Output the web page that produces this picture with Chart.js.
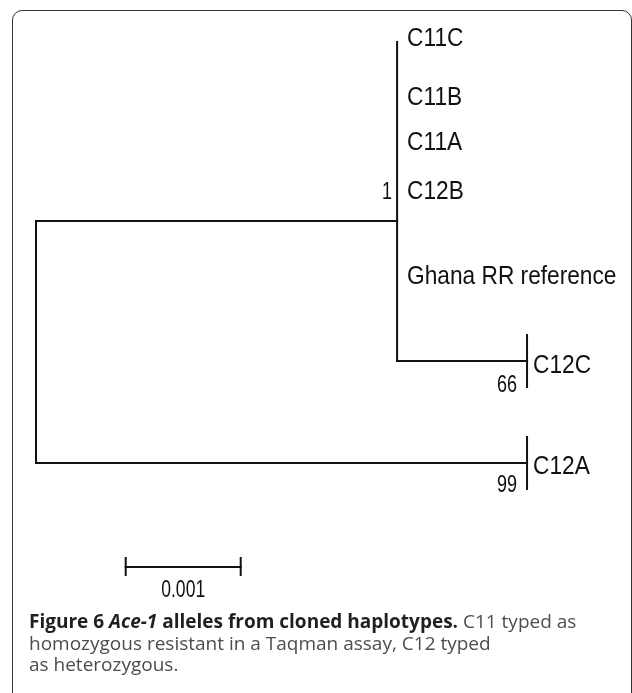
<!DOCTYPE html>
<html><head><meta charset="utf-8">
<script src="https://cdn.jsdelivr.net/npm/chart.js@4"></script>
<style>
html,body{margin:0;padding:0;background:#fff;width:632px;height:693px;overflow:hidden;}
#frame{position:absolute;left:12px;top:10px;width:620px;height:720px;border:1.6px solid #333;border-radius:10px;box-sizing:border-box;}
#wrap{position:absolute;left:0;top:0;width:632px;height:693px;}
#cap{position:absolute;left:29px;top:611px;font-family:"Open Sans";font-size:19px;line-height:21.5px;color:#4d4d4d;white-space:nowrap;}
#cap b{color:#231f20;font-weight:700}
</style></head><body>
<div id="frame"></div>
<div id="wrap"><canvas id="c" width="632" height="693"></canvas></div>
<div id="cap"><b>Figure 6 <i>Ace-1</i> alleles from cloned haplotypes.</b> C11 typed as<br>homozygous resistant in a Taqman assay, C12 typed<br>as heterozygous.</div>
<script>
// ---- data (branch depths in substitutions/site, vertical = row position) ----
const taxa = ['C11C', 'C11B', 'C11A', 'C12B', 'Ghana RR reference', 'C12C', 'C12A'];
const taxonDepth = [0.00314, 0.00314, 0.00314, 0.00314, 0.00314, 0.00427, 0.00427];
const taxonRow = [39, 98, 143, 192, 277, 366, 467];

const nodeNames = ['root', 'ingroup', 'C12C', 'C12A'];
const nodeDepth = [0, 0.00314, 0.00427, 0.00427];
const nodeRow = [221, 221, 361, 463];
const nodeParent = [-1, 0, 1, 0];
const ingroupSpan = [42, 361];      // vertical extent of the ingroup polytomy
const rootSpan = [221, 463];

const bootstrapLabels = ['1', '66', '99'];
const bootstrapDepth = [0.00314, 0.00427, 0.00427];
const bootstrapRow = [192, 385, 485];

const scaleBarStart = 0.00078;
const scaleBarLength = 0.001;
const scaleBarLabel = '0.001';
const scaleBarRow = 567;

// ---- build segments ----
const segs = [];
for (let i = 0; i < nodeNames.length; i++) {
  const p = nodeParent[i];
  if (p >= 0) segs.push([[nodeDepth[p], nodeRow[i]], [nodeDepth[i], nodeRow[i]]]);
}
segs.push([[nodeDepth[0], rootSpan[0]], [nodeDepth[0], rootSpan[1]]]);
segs.push([[nodeDepth[1], ingroupSpan[0]], [nodeDepth[1], ingroupSpan[1]]]);
const tickHalf = 26;
[2, 3].forEach(i => segs.push([[nodeDepth[i], nodeRow[i] - tickHalf], [nodeDepth[i], nodeRow[i] + tickHalf]]));
// scale bar
const sbEnd = scaleBarStart + scaleBarLength;
segs.push([[scaleBarStart, scaleBarRow], [sbEnd, scaleBarRow]]);
segs.push([[scaleBarStart, scaleBarRow - 9], [scaleBarStart, scaleBarRow + 8]]);
segs.push([[sbEnd, scaleBarRow - 9], [sbEnd, scaleBarRow + 8]]);

const datasets = segs.map(s => ({
  data: s.map(p => ({x: p[0], y: p[1]})),
  showLine: true, borderColor: '#111', borderWidth: 2,
  pointRadius: 0, tension: 0, borderCapStyle: 'square'
}));

function stretchText(ctx, text, x, y, size, sy, align) {
  ctx.save();
  ctx.translate(x, y);
  ctx.scale(1, sy);
  ctx.font = size + 'px "Liberation Sans", Arial, sans-serif';
  ctx.textAlign = align;
  ctx.textBaseline = 'middle';
  ctx.fillStyle = '#111';
  ctx.fillText(text, 0, 0);
  ctx.restore();
}

const labelPlugin = {
  id: 'treeLabels',
  afterDatasetsDraw(chart) {
    const ctx = chart.ctx, xs = chart.scales.x, ys = chart.scales.y;
    taxa.forEach((t, i) => {
      const gap = taxonDepth[i] === nodeDepth[1] ? 10 : 6;
      stretchText(ctx, t, xs.getPixelForValue(taxonDepth[i]) + gap, ys.getPixelForValue(taxonRow[i]), 22.7, 1.1, 'left');
    });
    bootstrapLabels.forEach((b, i) => {
      const gap = i === 0 ? 5 : 10;
      stretchText(ctx, b, xs.getPixelForValue(bootstrapDepth[i]) - gap, ys.getPixelForValue(bootstrapRow[i]), 18, 1.35, 'right');
    });
    stretchText(ctx, scaleBarLabel, xs.getPixelForValue(scaleBarStart + scaleBarLength / 2), ys.getPixelForValue(scaleBarRow + 23), 17.6, 1.4, 'center');
  }
};

new Chart(document.getElementById('c'), {
  type: 'scatter',
  data: {datasets},
  options: {
    responsive: false, animation: false,
    layout: {padding: 0},
    plugins: {legend: {display: false}, tooltip: {enabled: false}},
    scales: {
      x: {type: 'linear', display: false, min: -36 / 115000, max: 596 / 115000},
      y: {type: 'linear', display: false, min: 0, max: 693, reverse: true}
    }
  },
  plugins: [labelPlugin]
});
</script>
</body></html>
